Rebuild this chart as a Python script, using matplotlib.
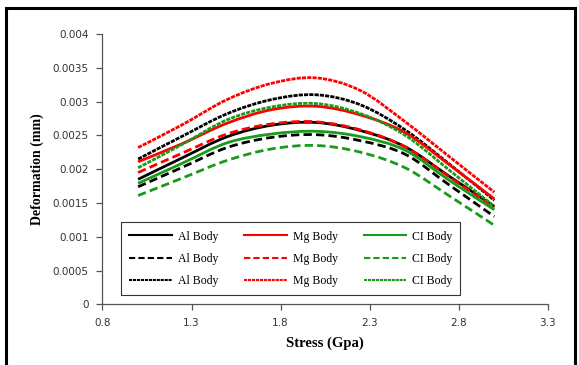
import matplotlib
matplotlib.use("Agg")
import matplotlib.pyplot as plt
import numpy as np
from matplotlib.lines import Line2D
from matplotlib.patches import PathPatch, Rectangle
from matplotlib.path import Path
from matplotlib.ticker import FormatStrFormatter

stress = [1.0, 1.25, 1.5, 1.75, 2.0, 2.25, 2.5, 2.75, 3.0]

# deformation (mm)
al_solid = [0.00185, 0.00217, 0.00248, 0.00265, 0.00269, 0.00257, 0.00233, 0.00189, 0.00145]
al_dash = [0.00174, 0.00203, 0.00232, 0.00247, 0.00251, 0.00242, 0.00222, 0.00176, 0.00130]
al_dot = [0.00215, 0.00249, 0.00282, 0.00303, 0.00310, 0.00295, 0.00258, 0.00207, 0.00154]
mg_solid = [0.00211, 0.00238, 0.00268, 0.00288, 0.00293, 0.00280, 0.00254, 0.00206, 0.00156]
mg_dash = [0.00195, 0.00224, 0.00252, 0.00267, 0.00270, 0.00258, 0.00233, 0.00188, 0.00143]
mg_dot = [0.00232, 0.00266, 0.00303, 0.00327, 0.00335, 0.00316, 0.00270, 0.00218, 0.00166]
ci_solid = [0.00179, 0.00209, 0.00239, 0.00252, 0.00256, 0.00248, 0.00228, 0.00183, 0.00140]
ci_dash = [0.00161, 0.00187, 0.00213, 0.00230, 0.00235, 0.00225, 0.00202, 0.00160, 0.00117]
ci_dot = [0.00202, 0.00237, 0.00273, 0.00292, 0.00297, 0.00282, 0.00250, 0.00198, 0.00145]

x_ticks = [0.8, 1.3, 1.8, 2.3, 2.8, 3.3]

GREEN = "#1a9a1a"
DASH = (0, (3, 1.5))
DOT = (0, (1.5, 0.4))
series = [
    ("Al Body", al_solid, "black", "-"),
    ("Al Body", al_dash, "black", DASH),
    ("Al Body", al_dot, "black", DOT),
    ("Mg Body", mg_solid, "red", "-"),
    ("Mg Body", mg_dash, "red", DASH),
    ("Mg Body", mg_dot, "red", DOT),
    ("CI Body", ci_solid, GREEN, "-"),
    ("CI Body", ci_dash, GREEN, DASH),
    ("CI Body", ci_dot, GREEN, DOT),
]


def smooth_path(x, y):
    """Excel-style smoothed line: Catmull-Rom through the points as cubic Beziers."""
    p = np.column_stack([x, y])
    ext = np.vstack([p[0], p, p[-1]])
    verts, codes = [p[0]], [Path.MOVETO]
    for i in range(len(p) - 1):
        p0, p1, p2, p3 = ext[i], ext[i + 1], ext[i + 2], ext[i + 3]
        verts += [p1 + (p2 - p0) / 6, p2 - (p3 - p1) / 6, p2]
        codes += [Path.CURVE4] * 3
    return Path(verts, codes)


fig = plt.figure(figsize=(5.79, 3.65), dpi=100)
ax = fig.add_axes([0.177, 0.166, 0.769, 0.741])

handles = []
for label, y, color, ls in series:
    ax.add_patch(PathPatch(smooth_path(stress, y), fill=False, edgecolor=color,
                           linestyle=ls, linewidth=2.0, capstyle="butt"))
    handles.append(Line2D([], [], color=color, linestyle=ls, linewidth=1.5, label=label))

ax.set_xlim(0.8, 3.3)
ax.set_ylim(0, 0.004)
ax.set_xticks(x_ticks)
ax.set_yticks(np.arange(0, 0.00401, 0.0005))
ax.xaxis.set_major_formatter(FormatStrFormatter("%g"))
ax.yaxis.set_major_formatter(FormatStrFormatter("%g"))
ax.spines[["top", "right"]].set_visible(False)
for s in ("left", "bottom"):
    ax.spines[s].set_color("#555555")
    ax.spines[s].set_linewidth(0.9)
ax.tick_params(direction="out", length=4, width=0.9, color="#555555",
               labelsize=7.5, labelcolor="#333333", pad=6)

ax.set_xlabel("Stress (Gpa)", family="Liberation Serif", fontweight="bold",
              fontsize=10.5, labelpad=6)
ax.set_ylabel("Deformation (mm)", family="Liberation Serif", fontweight="bold",
              fontsize=10, labelpad=6)

leg = ax.legend(handles=handles, ncol=3, loc="lower left", bbox_to_anchor=(0.042, 0.035),
                borderaxespad=0, prop={"family": "Liberation Serif", "size": 8.5},
                frameon=True, fancybox=False, edgecolor="black", handlelength=3.6,
                columnspacing=2.2, labelspacing=0.85, borderpad=0.7, handletextpad=0.5)
leg.get_frame().set_linewidth(0.8)

fig.patches.append(Rectangle((5.5 / 579, -0.05), 569 / 579, 1.05 - 7.5 / 365,
                             transform=fig.transFigure, fill=False, edgecolor="black",
                             linewidth=2.2))

fig.savefig("out.png", dpi=100)
